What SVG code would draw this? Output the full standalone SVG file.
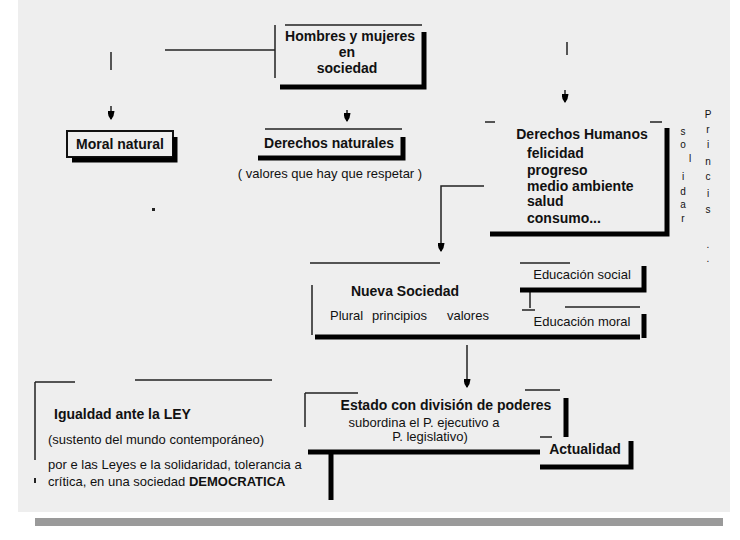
<svg xmlns="http://www.w3.org/2000/svg" width="740" height="540" viewBox="0 0 740 540">
<style>
text{font-family:"Liberation Sans",Arial,sans-serif;font-size:13px;fill:#111}
.b{font-weight:bold;font-size:14px}
.thin{stroke:#222;stroke-width:1.5;fill:none}
.thick{stroke:#000;stroke-width:5;fill:none}
.v{font-size:10px}
</style>
<defs>
<marker id="ah" markerWidth="9" markerHeight="7" refX="8" refY="3.5" orient="auto" markerUnits="userSpaceOnUse" viewBox="0 0 9 7">
<path d="M0,0 L5,1 L9,3.5 L5,6 L0,7 Z" fill="#000"/>
</marker>
</defs>
<rect x="0" y="0" width="740" height="540" fill="#ffffff"/>
<rect x="18" y="0" width="712" height="512" fill="#eeeeee"/>
<rect x="35" y="518" width="688" height="8" fill="#9a9a9a"/>

<g id="connectors">
<path class="thin" d="M165,50 H275"/>
<path class="thin" d="M111,52 V70"/>
<path class="thin" d="M111,106 V119" marker-end="url(#ah)"/>
<path class="thin" d="M347,110 V121" marker-end="url(#ah)"/>
<path class="thin" d="M567,42 V55"/>
<path class="thin" d="M565,90 V102" marker-end="url(#ah)"/>
<path class="thin" d="M484,186 H441 V251" marker-end="url(#ah)"/>
<path class="thin" d="M467,345 V387" marker-end="url(#ah)"/>
<path class="thin" d="M530,292 V308 M522,290 H535 M522,310 H535"/>
</g>

<g id="n-hombres">
<path class="thin" d="M285,25 H422 M275,25 V78"/>
<path class="thick" d="M424,32 V87 H280"/>
<text x="350" y="41" text-anchor="middle" class="b">Hombres y mujeres</text>
<text x="347" y="57" text-anchor="middle" class="b">en</text>
<text x="347" y="73" text-anchor="middle" class="b">sociedad</text>
</g>

<g id="n-moral">
<rect x="67" y="131" width="106" height="26" fill="none" stroke="#111" stroke-width="2"/>
<path class="thick" d="M175,137 V160 H72"/>
<text x="120" y="149" text-anchor="middle" class="b">Moral natural</text>
</g>

<g id="n-derechos-nat">
<path class="thin" d="M265,129 H402"/>
<path class="thick" d="M403,137 V158 H258"/>
<text x="329" y="148" text-anchor="middle" class="b">Derechos naturales</text>
<text x="330" y="178" text-anchor="middle">( valores que hay que respetar )</text>
</g>
<rect x="152" y="208" width="3" height="3" fill="#222"/>

<g id="n-derechos-hum">
<path class="thin" d="M485,122 H495 M650,122 H662"/>
<path class="thick" d="M667,128 V234 H490"/>
<text x="582" y="139" text-anchor="middle" class="b">Derechos Humanos</text>
<text x="527" y="158" class="b">felicidad</text>
<text x="527" y="175" class="b">progreso</text>
<text x="527" y="191" class="b">medio ambiente</text>
<text x="527" y="206" class="b">salud</text>
<text x="527" y="223" class="b">consumo...</text>
</g>

<g id="n-vertical">
<text class="v" x="683" y="135" text-anchor="middle">s</text>
<text class="v" x="683" y="148" text-anchor="middle">o</text>
<text class="v" x="690" y="162" text-anchor="middle">l</text>
<text class="v" x="683" y="180" text-anchor="middle">i</text>
<text class="v" x="683" y="195" text-anchor="middle">d</text>
<text class="v" x="683" y="208" text-anchor="middle">a</text>
<text class="v" x="683" y="222" text-anchor="middle">r</text>
<text class="v" x="708" y="118" text-anchor="middle">P</text>
<text class="v" x="708" y="133" text-anchor="middle">r</text>
<text class="v" x="708" y="148" text-anchor="middle">i</text>
<text class="v" x="708" y="165" text-anchor="middle">n</text>
<text class="v" x="708" y="180" text-anchor="middle">c</text>
<text class="v" x="708" y="197" text-anchor="middle">i</text>
<text class="v" x="708" y="213" text-anchor="middle">s</text>
<text class="v" x="708" y="248" text-anchor="middle">.</text>
<text class="v" x="708" y="262" text-anchor="middle">.</text>
</g>

<g id="n-nueva">
<path class="thin" d="M310,263 H440 M312,285 V335"/>
<path class="thick" d="M315,337 H640"/>
<text x="405" y="296" text-anchor="middle" class="b">Nueva Sociedad</text>
<text x="330" y="320">Plural</text>
<text x="372" y="320">principios</text>
<text x="447" y="320">valores</text>
</g>

<g id="n-edu-social">
<path class="thin" d="M520,263 H570"/>
<path class="thick" d="M644,266 V290 H520"/>
<text x="582" y="279" text-anchor="middle" font-size="14">Educación social</text>
</g>

<g id="n-edu-moral">
<path class="thin" d="M565,307 H640"/>
<path class="thick" d="M644,314 V338"/>
<text x="582" y="326" text-anchor="middle" font-size="14">Educación moral</text>
</g>

<g id="n-estado">
<path class="thin" d="M305,393 H358 M305,393 V427 M525,390 H560"/>
<path class="thick" d="M566,398 V437 M308,452 H540"/>
<text x="446" y="410" text-anchor="middle" class="b">Estado con división de poderes</text>
<text x="424" y="427" text-anchor="middle">subordina el P. ejecutivo a</text>
<text x="430" y="441" text-anchor="middle">P. legislativo)</text>
</g>

<g id="n-actualidad">
<path class="thin" d="M540,437 H552"/>
<path class="thick" d="M631,441 V467 H540"/>
<text x="585" y="454" text-anchor="middle" class="b">Actualidad</text>
</g>

<g id="n-igualdad">
<path class="thin" d="M35,382 H75 M35,382 V460 M135,380 H272"/>
<path class="thick" d="M331,452 V500"/>
<rect x="34" y="478" width="2" height="5" fill="#222"/>
<text x="54" y="419" class="b" font-size="12">Igualdad ante la LEY</text>
<text x="48" y="444">(sustento del mundo contemporáneo)</text>
<text x="48" y="469" font-size="12.5">por e las Leyes e la solidaridad, tolerancia a</text>
<text x="48" y="486">crítica, en una sociedad <tspan font-weight="bold">DEMOCRATICA</tspan></text>
</g>
</svg>
